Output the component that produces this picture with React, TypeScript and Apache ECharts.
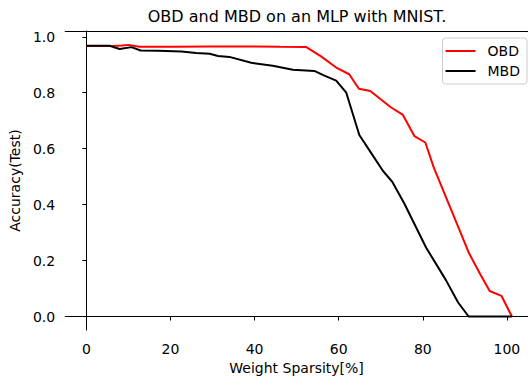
import React, { useEffect, useRef } from "react";
import * as echarts from "echarts";

const titleText = "OBD and MBD on an MLP with MNIST.";
const xTicks = [0, 20, 40, 60, 80, 100];
const yTicks = [0, 0.2, 0.4, 0.6, 0.8, 1.0];

const obdX = [0, 3, 6, 8.5, 10, 12.6, 20, 30, 40, 46, 52.3, 55.8, 59.4, 62.5, 64.8, 67.5, 72.4, 75.2, 78, 80.6, 82.6, 85.8, 88.3, 91, 93.7, 95.9, 98.7, 101.2];
const obdY = [0.967, 0.967, 0.967, 0.969, 0.971, 0.964, 0.964, 0.965, 0.965, 0.964, 0.963, 0.93, 0.89, 0.866, 0.814, 0.806, 0.748, 0.722, 0.645, 0.622, 0.533, 0.416, 0.325, 0.226, 0.15, 0.091, 0.074, 0.0];

const mbdX = [0, 5.5, 7.9, 10.7, 12.9, 17, 22.6, 26.1, 29.3, 31.3, 34, 39.2, 44.3, 49.1, 54.2, 56.6, 59.4, 61.8, 64.9, 67.7, 70.5, 72.8, 75.6, 80.8, 85.5, 88.4, 90.9, 101.2];
const mbdY = [0.968, 0.968, 0.956, 0.963, 0.951, 0.95, 0.947, 0.942, 0.939, 0.931, 0.928, 0.907, 0.896, 0.882, 0.878, 0.861, 0.843, 0.8, 0.649, 0.585, 0.521, 0.48, 0.404, 0.246, 0.13, 0.05, 0.0, 0.0];

const FONT = "DejaVu Sans";

export default function App() {
  const ref = useRef<HTMLDivElement>(null);
  useEffect(() => {
    if (!ref.current) return;
    const chart = echarts.init(ref.current, null, { renderer: "svg" });
    const axisLine = { show: true, lineStyle: { color: "#000", width: 1 } };
    chart.setOption({
      animation: false,
      backgroundColor: "#fff",
      textStyle: { fontFamily: FONT },
      graphic: [
        {
          type: "text",
          x: 297,
          y: 8,
          style: { text: titleText, fontSize: 16, fontFamily: FONT, fill: "#000", textAlign: "center" },
        },
      ],
      grid: { left: 64, right: 0, top: 31, bottom: 44 },
      legend: {
        right: 1,
        top: 38,
        orient: "vertical",
        icon: "rect",
        itemWidth: 30,
        itemHeight: 2,
        itemGap: 6,
        padding: [6, 7, 6, 3],
        borderColor: "#ccc",
        borderWidth: 1,
        borderRadius: 3,
        backgroundColor: "#fff",
        textStyle: { fontSize: 14, color: "#000", fontFamily: FONT, padding: [0, 0, 0, 7] },
        data: ["OBD", "MBD"],
      },
      xAxis: [
        {
          type: "value",
          min: -5.06,
          max: 105.02,
          name: "Weight Sparsity[%]",
          nameLocation: "middle",
          nameGap: 30,
          nameTextStyle: { fontSize: 14, color: "#000", fontFamily: FONT },
          axisLine,
          axisTick: { show: true, length: 4, customValues: xTicks, lineStyle: { color: "#000" } },
          axisLabel: { customValues: xTicks, fontSize: 14, color: "#000", margin: 12, fontFamily: FONT },
          splitLine: { show: false },
        },
        {
          type: "value",
          position: "top",
          min: -5.06,
          max: 105.02,
          axisLine,
          axisTick: { show: false },
          axisLabel: { show: false },
          splitLine: { show: false },
        },
      ],
      yAxis: {
        type: "value",
        min: -0.0486,
        max: 1.0206,
        name: "Accuracy(Test)",
        nameLocation: "middle",
        nameGap: 39,
        nameTextStyle: { fontSize: 14, color: "#000", fontFamily: FONT },
        axisLine,
        axisTick: { show: true, length: 4, customValues: yTicks, lineStyle: { color: "#000" } },
        axisLabel: {
          customValues: yTicks,
          fontSize: 14,
          color: "#000",
          margin: 10,
          fontFamily: FONT,
          formatter: (v: number) => v.toFixed(1),
        },
        splitLine: { show: false },
      },
      series: [
        {
          name: "OBD",
          type: "line",
          symbol: "none",
          data: obdX.map((x, i) => [x, obdY[i]]),
          lineStyle: { color: "#ff0000", width: 2 },
          itemStyle: { color: "#ff0000" },
        },
        {
          name: "MBD",
          type: "line",
          symbol: "none",
          data: mbdX.map((x, i) => [x, mbdY[i]]),
          lineStyle: { color: "#000000", width: 2 },
          itemStyle: { color: "#000000" },
        },
      ],
    });
    return () => chart.dispose();
  }, []);
  return <div ref={ref} style={{ width: 528, height: 380, position: "absolute", left: 0, top: 0 }} />;
}
